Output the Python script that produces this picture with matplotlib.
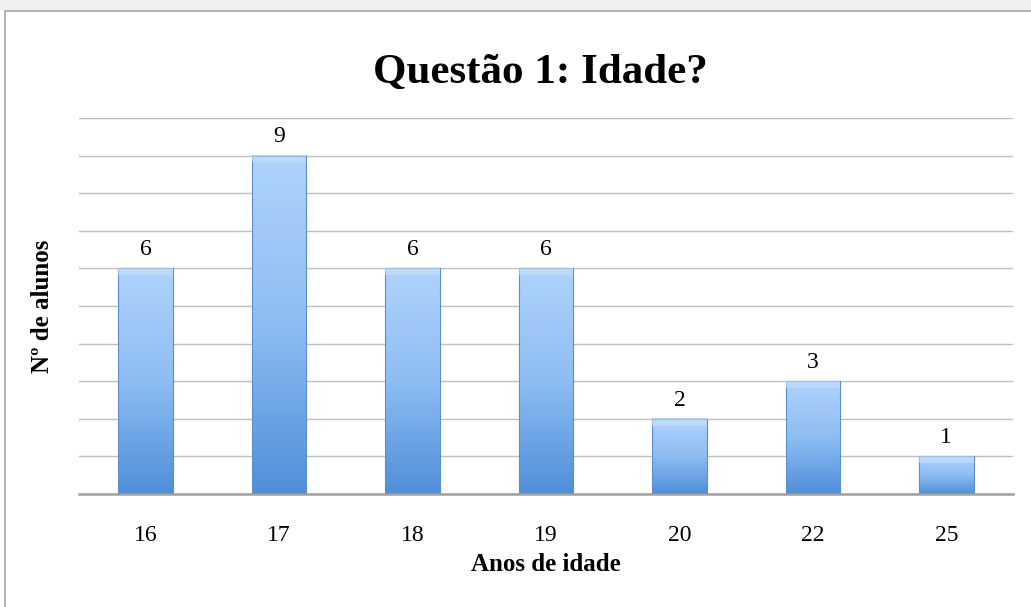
import matplotlib.pyplot as plt
import matplotlib.patches as mpatches
from matplotlib.colors import LinearSegmentedColormap
import numpy as np

idades = ["16", "17", "18", "19", "20", "22", "25"]
alunos = [6, 9, 6, 6, 2, 3, 1]

plt.rcParams['font.family'] = ['Liberation Serif', 'DejaVu Serif']

fig = plt.figure(figsize=(10.31, 6.07), dpi=100)
W, H = 1031, 607

# moldura do gráfico (atrás dos eixos)
fig.patches.append(mpatches.Rectangle((0, 1 - 11 / H), 1, 11 / H, transform=fig.transFigure,
                                      facecolor='#f0f0f0', edgecolor='none', zorder=-3))
fig.patches.append(mpatches.Rectangle((5 / W, -0.01), 1.01, 1 - 11 / H + 0.01, transform=fig.transFigure,
                                      facecolor='white', edgecolor='#a6a6a6', linewidth=1.2, zorder=-2))

ax = fig.add_axes([79 / W, (H - 494) / H, 934 / W, (494 - 118) / H])
ax.set_facecolor('none')
ax.set_yticks(range(0, 11))
ax.yaxis.grid(True, color='#bfbfbf', linewidth=1)
ax.set_axisbelow(True)
ax.tick_params(axis='y', left=False, labelleft=False)
ax.tick_params(axis='x', bottom=False, labelsize=17, pad=19)
for s in ['top', 'right', 'left']:
    ax.spines[s].set_visible(False)
ax.spines['bottom'].set_color('#a0a0a0')
ax.spines['bottom'].set_linewidth(1.8)
ax.spines['bottom'].set_zorder(5)

ax.set_xticks(range(len(idades)))
ax.set_xticklabels(idades)

largura = 0.41
grad = np.linspace(0, 1, 256).reshape(-1, 1)
cmap = LinearSegmentedColormap.from_list('barra', ['#4f8fd9', '#8dbdf3', '#b0d3fc'])
for i, v in enumerate(alunos):
    x0 = i - largura / 2
    ax.imshow(grad, extent=[x0, x0 + largura, 0, v], origin='lower', aspect='auto',
              cmap=cmap, zorder=2)
    ax.add_patch(mpatches.Rectangle((x0, 0), largura, v, facecolor='none',
                                    edgecolor='#5b8fcc', linewidth=0.8, zorder=3))
    # bisel superior
    ax.add_patch(mpatches.Rectangle((x0, v - 0.18), largura, 0.18, facecolor='#c6e0fd',
                                    edgecolor='none', alpha=0.6, zorder=3))
    ax.text(i, v + 0.22, str(v), ha='center', va='bottom', fontsize=17, zorder=4)

ax.set_xlim(-0.5, len(idades) - 0.5)
ax.set_ylim(0, 10)

ax.set_xlabel("Anos de idade", fontsize=18, fontweight='bold', labelpad=5)
ax.set_ylabel("Nº de alunos", fontsize=18, fontweight='bold', labelpad=18)
fig.text(540 / W, 1 - 73 / H, "Questão 1: Idade?", ha='center', va='center',
         fontsize=31, fontweight='bold')

fig.savefig("out.png", dpi=100)
